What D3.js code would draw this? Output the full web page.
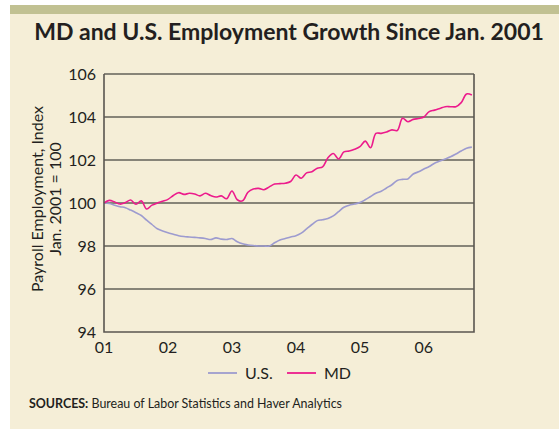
<!DOCTYPE html>
<html>
<head>
<meta charset="utf-8">
<script src="https://cdn.jsdelivr.net/npm/d3@7"></script>
<style>
  body { margin: 0; background: #fff; }
  text { font-family: Lato, "Open Sans", sans-serif; fill: #231f20; }
</style>
</head>
<body>
<svg class="container" width="559" height="432"></svg>
<script>
// monthly index values, Jan 2001 = 100, Jan 2001 .. Oct 2006
let usValues = [
    100.0, 99.98, 99.9, 99.83, 99.78, 99.67, 99.55, 99.42, 99.2, 99.0, 98.8, 98.7,
    98.62, 98.55, 98.48, 98.44, 98.42, 98.4, 98.38, 98.35, 98.3, 98.38, 98.32, 98.3,
    98.35, 98.2, 98.1, 98.05, 98.02, 98.0, 98.0, 98.0, 98.15, 98.28, 98.35, 98.42,
    98.48, 98.6, 98.8, 99.0, 99.18, 99.22, 99.28, 99.4, 99.6, 99.8, 99.9, 99.95,
    100.02, 100.15, 100.3, 100.45, 100.55, 100.7, 100.85, 101.05, 101.1, 101.12, 101.35, 101.45,
    101.58, 101.7, 101.85, 101.95, 102.05, 102.15, 102.28, 102.42, 102.55, 102.6
];
let mdValues = [
    100.0, 100.12, 100.05, 99.95, 100.02, 100.14, 99.94, 100.1, 99.72, 99.9, 100.0, 100.08,
    100.17, 100.35, 100.48, 100.4, 100.45, 100.42, 100.33, 100.45, 100.35, 100.28, 100.33, 100.2,
    100.56, 100.15, 100.1, 100.5, 100.65, 100.68, 100.62, 100.75, 100.88, 100.9, 100.92, 101.0,
    101.3, 101.15, 101.4, 101.45, 101.62, 101.68, 102.1, 102.3, 102.05, 102.38, 102.42, 102.5,
    102.62, 102.88, 102.57, 103.24, 103.24, 103.3, 103.4, 103.37, 103.94, 103.78, 103.89, 103.93,
    104.0, 104.25, 104.32, 104.4, 104.48, 104.48, 104.48, 104.67, 105.07, 105.02
];
let yearLabels = ["01", "02", "03", "04", "05", "06"];
let yTicks = [94, 96, 98, 100, 102, 104, 106];
let seriesNames = ["U.S.", "MD"];
let seriesColors = ["#9d9bcf", "#ec1b8c"];

let plotLeft = 104, plotRight = 474, plotTop = 74, plotBottom = 332;
let svg = d3.select(".container");

// panel
svg.append("rect").attr("x", 10).attr("y", 5).attr("width", 549).attr("height", 424).attr("fill", "#f5eed7");
svg.append("rect").attr("x", 10).attr("y", 5).attr("width", 549).attr("height", 9).attr("fill", "#c1c192");

svg.append("text")
    .attr("x", 289).attr("y", 40)
    .attr("text-anchor", "middle")
    .style("font-size", "23px").style("font-weight", "bold")
    .text("MD and U.S. Employment Growth Since Jan. 2001");

let x = d3.scaleLinear().domain([0, 69.4]).range([plotLeft, plotRight]);
let y = d3.scaleLinear().domain([94, 106]).range([plotBottom, plotTop]);

// gridlines
svg.append("g").selectAll("line")
    .data(yTicks.slice(1))
    .enter().append("line")
    .attr("x1", plotLeft).attr("x2", plotRight)
    .attr("y1", d => y(d)).attr("y2", d => y(d))
    .style("stroke", "#1a1a1a").style("stroke-width", 1.2);

// y axis labels
svg.append("g").selectAll("text")
    .data(yTicks)
    .enter().append("text")
    .attr("x", 96).attr("y", d => y(d) + 5.5)
    .attr("text-anchor", "end")
    .style("font-size", "16px")
    .text(d => d);

// x axis labels
svg.append("g").selectAll("text")
    .data(yearLabels)
    .enter().append("text")
    .attr("x", (d, i) => x(i * 12))
    .attr("y", 353)
    .attr("text-anchor", "middle")
    .style("font-size", "16px")
    .text(d => d);

// y title
let yt = svg.append("text")
    .attr("transform", "translate(43,199) rotate(-90)")
    .attr("text-anchor", "middle")
    .style("font-size", "16px");
yt.append("tspan").attr("x", 0).attr("dy", 0).text("Payroll Employment, Index");
yt.append("tspan").attr("x", 0).attr("dy", 18).text("Jan. 2001 = 100");

// lines
let line = d3.line()
    .x((d, i) => x(i))
    .y(d => y(d))
    .curve(d3.curveCatmullRom);

[usValues, mdValues].forEach((vals, k) => {
    svg.append("path")
        .datum(vals)
        .attr("d", line)
        .attr("fill", "none")
        .style("stroke", seriesColors[k])
        .style("stroke-width", 1.6);
});

// frame (left, bottom, right)
svg.append("path")
    .attr("d", `M${plotLeft},${plotTop}V${plotBottom}H${plotRight}V${plotTop}`)
    .attr("fill", "none")
    .style("stroke", "#5a5650").style("stroke-width", 1.6);

// legend
let legendX = [208, 287];
seriesNames.forEach((name, k) => {
    svg.append("line")
        .attr("x1", legendX[k]).attr("x2", legendX[k] + 29)
        .attr("y1", 373).attr("y2", 373)
        .style("stroke", seriesColors[k]).style("stroke-width", 1.8);
    svg.append("text")
        .attr("x", legendX[k] + 37).attr("y", 378.5)
        .style("font-size", "16px")
        .text(name);
});

// sources
let src = svg.append("text")
    .attr("x", 29).attr("y", 408)
    .attr("textLength", 313).attr("lengthAdjust", "spacingAndGlyphs")
    .style("font-size", "12.5px");
src.append("tspan").style("font-weight", "bold").text("SOURCES:");
src.append("tspan").text(" Bureau of Labor Statistics and Haver Analytics");
</script>
</body>
</html>
